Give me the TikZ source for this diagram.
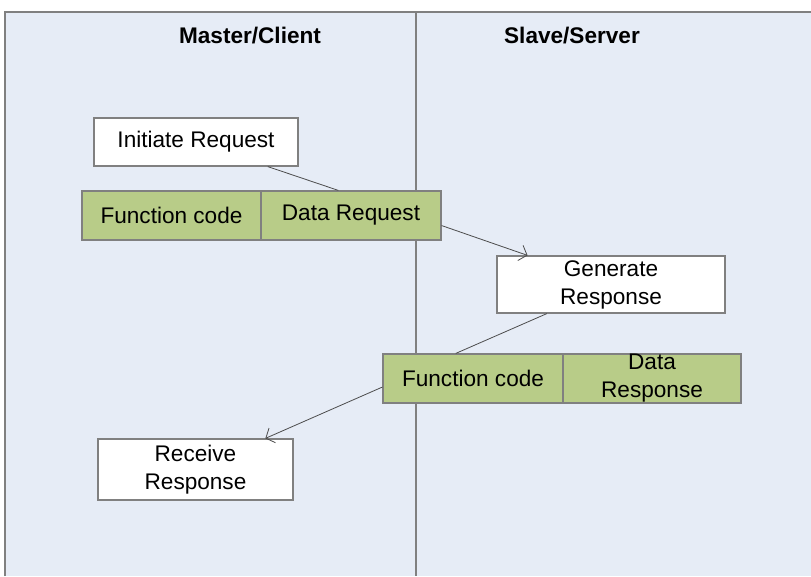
\documentclass[tikz,border=0pt]{standalone}
\usepackage{fontspec}
\setmainfont{Liberation Sans}
\usetikzlibrary{arrows.meta,calc}
\definecolor{lanebg}{RGB}{230,236,246}
\definecolor{fieldgreen}{RGB}{184,204,136}
\definecolor{rulegray}{RGB}{128,128,128}
\begin{document}
\begin{tikzpicture}[x=1pt, y=-1pt,
		step box/.style={draw=rulegray, line width=1.2pt, fill=white, inner sep=0pt, align=center,
			font=\fontsize{22.6}{28}\selectfont},
		field box/.style={step box, fill=fieldgreen, minimum width=179, minimum height=49},
		msg/.style={draw=black!70, line width=0.8pt},
		head/.style={font=\fontsize{22.6}{28}\selectfont\bfseries}]
	\useasboundingbox (0,0) rectangle (811,576);
	% lanes
	\fill[lanebg] (5,12) rectangle (811,576);
	\draw[rulegray, line width=1.1pt] (5,576) -- (5,12) -- (811,12);
	\draw[rulegray, line width=1.1pt] (416,12) -- (416,576);
	\node[head] (master) at (250,36) {Master/Client};
	\node[head] (slave) at (572,36) {Slave/Server};
	% steps
	\node[step box, minimum width=204, minimum height=48] (init) at (196,142) {Initiate Request};
	\node[field box] (fcreq) at (171.5,215.5) {Function code};
	\node[field box, minimum width=180] (datareq) at (351,215.5) {Data Request};
	\node[step box, minimum width=228, minimum height=57] (gen) at (611,284.5) {Generate\\Response};
	\node[field box, minimum width=180] (fcresp) at (473,378.5) {Function code};
	\node[field box, minimum width=178] (dataresp) at (652,378.5) {Data\\Response};
	\node[step box, minimum width=195, minimum height=61] (recv) at (195.5,469.5) {Receive\\Response};
	% messages
	\draw[msg] ($(init.south west)!0.85!(init.south east)$) -- ($(datareq.north west)!0.43!(datareq.north east)$);
	\draw[msg, -{Straight Barb[length=7pt, width=16pt, line width=0.8pt]}] ($(datareq.north east)!0.7!(datareq.south east)$) -- ($(gen.north west)!0.136!(gen.north east)$);
	\draw[msg] ($(gen.south west)!0.22!(gen.south east)$) -- ($(fcresp.north west)!0.405!(fcresp.north east)$);
	\draw[msg, -{Straight Barb[length=7pt, width=16pt, line width=0.8pt]}] ($(fcresp.north west)!0.67!(fcresp.south west)$) -- ($(recv.north west)!0.856!(recv.north east)$);
\end{tikzpicture}
\end{document}
